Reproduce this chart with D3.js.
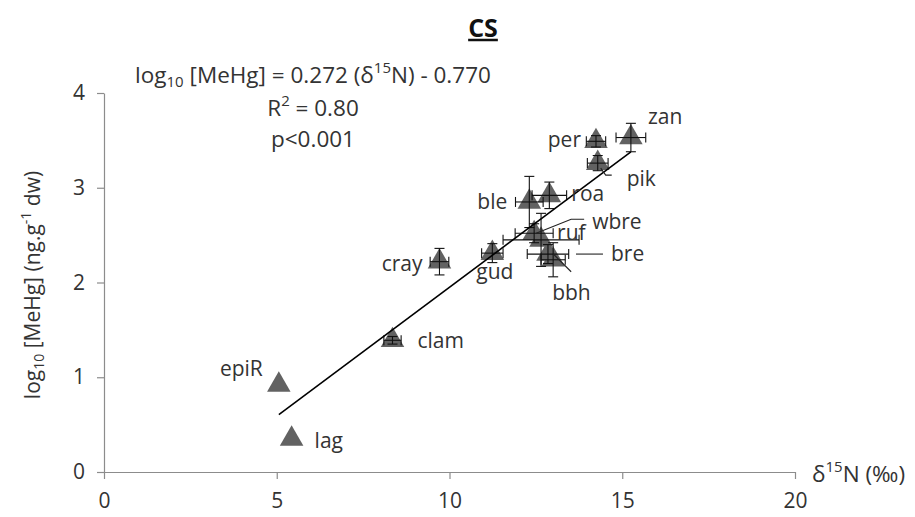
<!DOCTYPE html>
<html>
<head>
<meta charset="utf-8">
<script src="https://cdn.jsdelivr.net/npm/d3@7"></script>
<style>
  html, body { margin: 0; padding: 0; background: #fff; }
  svg { display: block; font-family: "Open Sans", "Noto Sans", sans-serif; }
</style>
</head>
<body>
<svg id="chart" width="915" height="517"></svg>
<script>
// ---- data ----
const species   = ["zan", "per", "pik", "ble", "roa", "wbre", "ruf", "bre", "bbh", "gud", "cray", "clam", "epiR", "lag"];
const d15N      = [15.25, 14.24, 14.29, 12.31, 12.89, 12.45, 12.65, 12.85, 13.00, 11.24, 9.71, 8.35, 5.06, 5.43];
const logMeHg   = [3.53, 3.49, 3.26, 2.85, 2.92, 2.52, 2.45, 2.30, 2.24, 2.31, 2.22, 1.39, 0.92, 0.35];
const d15NErr   = [0.43, 0.28, 0.30, 0.40, 0.50, 0.55, 1.10, 0.60, 0.35, 0.31, 0.27, 0.25, 0, 0];
const logMeHgErr= [0.15, 0.06, 0.08, 0.27, 0.14, 0.10, 0.28, 0.10, 0.18, 0.10, 0.14, 0.04, 0, 0];
const xTicks    = [0, 5, 10, 15, 20];
const yTicks    = [0, 1, 2, 3, 4];
const slope = 0.272, intercept = -0.770;
const fitRange  = [5.06, 15.25];

// ---- label layout (pixel offsets from marker) ----
const labelLayout = {
  zan:  {dx: 17, dy: -21, anchor: "start"},
  per:  {dx: -15, dy: -2, anchor: "end"},
  pik:  {dx: 29, dy: 16, anchor: "start", leader: [[3, 5], [8, 12], [14, 12]]},
  ble:  {dx: -22, dy: 0, anchor: "end"},
  roa:  {dx: 22, dy: -2, anchor: "start"},
  wbre: {dx: 58, dy: -12, anchor: "start", leader: [[2, 0], [37, -14], [50, -14]]},
  ruf:  {dx: 16, dy: -7, anchor: "start"},
  bre:  {dx: 63, dy: 0, anchor: "start", leader: [[28, 0], [55, 0]]},
  bbh:  {dx: -1, dy: 33, anchor: "start", leader: [[0, -6], [18, 12]]},
  gud:  {dx: -16, dy: 19, anchor: "start"},
  cray: {dx: -17, dy: 2, anchor: "end"},
  clam: {dx: 25, dy: 0, anchor: "start"},
  epiR: {dx: -16, dy: -16, anchor: "end"},
  lag:  {dx: 23, dy: 2, anchor: "start"}
};

const points = species.map((s, i) => ({name: s, x: d15N[i], y: logMeHg[i], xe: d15NErr[i], ye: logMeHgErr[i]}));

const svg = d3.select("#chart");
const x = d3.scaleLinear().domain([0, 20]).range([104, 795]);
const y = d3.scaleLinear().domain([0, 4]).range([472, 93]);
const axisColor = "#8c8c8c";
const textColor = "#333";

// axes
const gx = svg.append("g").attr("transform", `translate(0,${y(0)})`)
  .call(d3.axisBottom(x).tickValues(xTicks).tickFormat(d3.format("d")).tickSize(7).tickSizeOuter(0).tickPadding(14));
const gy = svg.append("g").attr("transform", `translate(${x(0)},0)`)
  .call(d3.axisLeft(y).tickValues(yTicks).tickFormat(d3.format("d")).tickSize(7).tickSizeOuter(0).tickPadding(12));
[gx, gy].forEach(g => {
  g.select(".domain").attr("stroke", axisColor).attr("stroke-width", 1.2);
  g.selectAll(".tick line").attr("stroke", axisColor).attr("stroke-width", 1.2);
  g.selectAll(".tick text").attr("fill", textColor).style("font-size", "21px")
    .style("font-family", '"Open Sans", "Noto Sans", sans-serif');
});

// markers
const tri = d3.symbol().type(d3.symbolTriangle).size(240);
svg.append("g").selectAll("path").data(points).join("path")
  .attr("d", tri)
  .attr("transform", d => `translate(${x(d.x)},${y(d.y)})`)
  .attr("fill", "#626262");

// error bars
const eb = svg.append("g").attr("stroke", "#111").attr("stroke-width", 1.1).attr("fill", "none");
const cap = 5;
points.filter(d => d.xe > 0).forEach(d => {
  const cy = y(d.y), x0 = x(d.x - d.xe), x1 = x(d.x + d.xe);
  eb.append("line").attr("x1", x0).attr("x2", x1).attr("y1", cy).attr("y2", cy);
  eb.append("line").attr("x1", x0).attr("x2", x0).attr("y1", cy - cap).attr("y2", cy + cap);
  eb.append("line").attr("x1", x1).attr("x2", x1).attr("y1", cy - cap).attr("y2", cy + cap);
});
points.filter(d => d.ye > 0).forEach(d => {
  const cx = x(d.x), y0 = y(d.y - d.ye), y1 = y(d.y + d.ye);
  eb.append("line").attr("x1", cx).attr("x2", cx).attr("y1", y0).attr("y2", y1);
  eb.append("line").attr("x1", cx - cap).attr("x2", cx + cap).attr("y1", y0).attr("y2", y0);
  eb.append("line").attr("x1", cx - cap).attr("x2", cx + cap).attr("y1", y1).attr("y2", y1);
});

// trend line
svg.append("line")
  .attr("x1", x(fitRange[0])).attr("y1", y(slope * fitRange[0] + intercept))
  .attr("x2", x(fitRange[1])).attr("y2", y(slope * fitRange[1] + intercept))
  .attr("stroke", "#000").attr("stroke-width", 1.6);

// labels + leaders
points.forEach(d => {
  const L = labelLayout[d.name];
  const px = x(d.x), py = y(d.y);
  if (L.leader) {
    svg.append("path")
      .attr("d", d3.line()(L.leader.map(([a, b]) => [px + a, py + b])))
      .attr("fill", "none").attr("stroke", "#222").attr("stroke-width", 1.1);
  }
  svg.append("text")
    .attr("x", px + L.dx).attr("y", py + L.dy).attr("dy", "0.35em")
    .attr("text-anchor", L.anchor)
    .attr("fill", textColor).style("font-size", "21px")
    .text(d.name);
});

// title
svg.append("text").attr("x", 483).attr("y", 28).attr("dy", "0.35em")
  .attr("text-anchor", "middle").style("font-size", "25px").style("font-weight", "bold")
  .style("text-decoration", "underline").attr("fill", "#111").text("CS");

// equation block
const eqSize = "22.5px", subSize = "15px";
const eq = svg.append("text").attr("x", 313).attr("y", 75).attr("dy", "0.35em")
  .attr("text-anchor", "middle").attr("fill", textColor).style("font-size", eqSize);
eq.append("tspan").text("log");
eq.append("tspan").attr("baseline-shift", "-25%").style("font-size", subSize).text("10");
eq.append("tspan").text(" [MeHg] = 0.272 (δ");
eq.append("tspan").attr("baseline-shift", "super").style("font-size", subSize).text("15");
eq.append("tspan").text("N) - 0.770");

const r2 = svg.append("text").attr("x", 313).attr("y", 108).attr("dy", "0.35em")
  .attr("text-anchor", "middle").attr("fill", textColor).style("font-size", eqSize);
r2.append("tspan").text("R");
r2.append("tspan").attr("baseline-shift", "super").style("font-size", subSize).text("2");
r2.append("tspan").text(" = 0.80");

svg.append("text").attr("x", 313).attr("y", 139).attr("dy", "0.35em")
  .attr("text-anchor", "middle").attr("fill", textColor).style("font-size", eqSize).text("p<0.001");

// x axis title
const xt = svg.append("text").attr("x", 812).attr("y", 474).attr("dy", "0.35em")
  .attr("text-anchor", "start").attr("fill", textColor).style("font-size", "22.5px");
xt.append("tspan").text("δ");
xt.append("tspan").attr("baseline-shift", "super").style("font-size", "15px").text("15");
xt.append("tspan").text("N (‰)");

// y axis title
const yt = svg.append("text").attr("transform", "translate(33,285) rotate(-90)").attr("dy", "0.35em")
  .attr("text-anchor", "middle").attr("fill", textColor).style("font-size", "21px");
yt.append("tspan").text("log");
yt.append("tspan").attr("baseline-shift", "-25%").style("font-size", "14px").text("10");
yt.append("tspan").text(" [MeHg] (ng.g");
yt.append("tspan").attr("baseline-shift", "super").style("font-size", "14px").text("-1");
yt.append("tspan").text(" dw)");
</script>
</body>
</html>
